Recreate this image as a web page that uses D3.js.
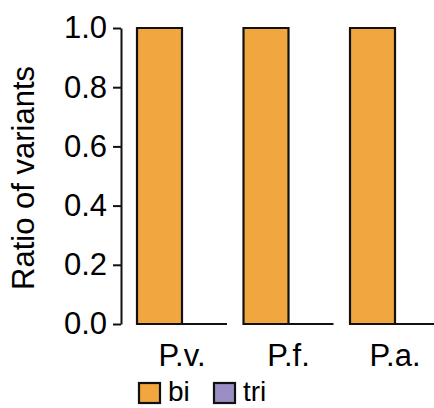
<!DOCTYPE html>
<html>
<head>
<meta charset="utf-8">
<script src="https://cdn.jsdelivr.net/npm/d3@7"></script>
<style>
  body { margin: 0; background: #fff; }
  text { font-family: "Liberation Sans", Arial, sans-serif; fill: #000; }
</style>
</head>
<body>
<script>
// data
var groups = ["P.v.", "P.f.", "P.a."];
var series = ["bi", "tri"];
var biValues = [1.0, 1.0, 1.0];
var triValues = [0.0, 0.0, 0.0];
var yTicks = [0, 0.2, 0.4, 0.6, 0.8, 1.0];
var colors = ["#f1a640", "#9b8ec4"];

var width = 434, height = 408;
var fontSize = 31;

var svg = d3.select("body").append("svg")
    .attr("width", width)
    .attr("height", height);

// scales
var x0 = d3.scaleBand()
    .domain(groups)
    .range([128.75, 128.75 + 3 * 106.5])
    .paddingInner(0.155)
    .paddingOuter(0.0775);

var x1 = d3.scaleBand()
    .domain(series)
    .range([0, x0.bandwidth()]);

var y = d3.scaleLinear()
    .domain([0, 1])
    .range([324, 28]);

var color = d3.scaleOrdinal().domain(series).range(colors);

// flatten into rows for drawing
var rows = groups.map(function(g, i) {
  return { group: g, values: [
    { key: "bi", value: biValues[i] },
    { key: "tri", value: triValues[i] }
  ]};
});

// bars (drawn as paths so a zero bar still shows its outline on the baseline)
var grp = svg.selectAll(".grp")
    .data(rows)
  .enter().append("g")
    .attr("class", "grp")
    .attr("transform", function(d) { return "translate(" + x0(d.group) + ",0)"; });

grp.selectAll("path")
    .data(function(d) { return d.values; })
  .enter().append("path")
    .attr("d", function(d) {
      var x = x1(d.key), w = x1.bandwidth();
      return "M" + x + "," + y(0) + "L" + x + "," + y(d.value)
        + "L" + (x + w) + "," + y(d.value) + "L" + (x + w) + "," + y(0) + "Z";
    })
    .attr("fill", function(d) { return color(d.key); })
    .attr("stroke", "#111")
    .attr("stroke-width", 2.2)
    .attr("stroke-linejoin", "miter");

// y axis
var yAxis = svg.append("g")
    .attr("transform", "translate(121,0)")
    .call(d3.axisLeft(y).tickValues(yTicks).tickFormat(d3.format(".1f"))
      .tickSize(8).tickSizeOuter(0).tickPadding(6));
yAxis.select(".domain").attr("stroke", "#111").attr("stroke-width", 2);
yAxis.selectAll(".tick line").attr("stroke", "#111").attr("stroke-width", 2);
yAxis.selectAll("text")
    .style("font-size", fontSize + "px")
    .style("font-family", "'Liberation Sans', Arial, sans-serif")
    .attr("fill", "#000");

// y title
svg.append("text")
    .attr("transform", "translate(34," + ((y(0) + y(1)) / 2 + 2) + ") rotate(-90)")
    .attr("text-anchor", "middle")
    .style("font-size", fontSize + "px")
    .text("Ratio of variants");

// group labels
svg.selectAll(".glabel")
    .data(groups)
  .enter().append("text")
    .attr("class", "glabel")
    .attr("x", function(d) { return x0(d) + x0.bandwidth() / 2; })
    .attr("y", 366)
    .attr("text-anchor", "middle")
    .style("font-size", fontSize + "px")
    .text(function(d) { return d; });

// legend
var legendX = [139, 214];
var leg = svg.selectAll(".leg")
    .data(series)
  .enter().append("g")
    .attr("class", "leg")
    .attr("transform", function(d, i) { return "translate(" + legendX[i] + ",383)"; });

leg.append("rect")
    .attr("width", 21)
    .attr("height", 20)
    .attr("fill", function(d) { return color(d); })
    .attr("stroke", "#111")
    .attr("stroke-width", 2.2);

leg.append("text")
    .attr("x", 29)
    .attr("y", 18)
    .style("font-size", "28px")
    .text(function(d) { return d; });
</script>
</body>
</html>
